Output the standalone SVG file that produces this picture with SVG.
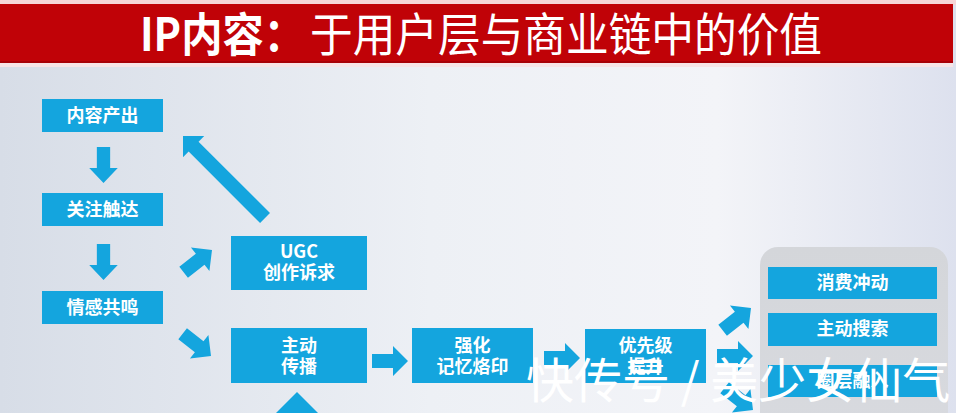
<svg xmlns="http://www.w3.org/2000/svg" width="956" height="413" viewBox="0 0 956 413">
  <defs>
    <linearGradient id="bg" x1="0" y1="0" x2="1" y2="0">
      <stop offset="0" stop-color="#d7dde7"/>
      <stop offset="0.45" stop-color="#edf0f5"/>
      <stop offset="0.75" stop-color="#f3f4f8"/>
      <stop offset="1" stop-color="#dde1ee"/>
    </linearGradient>
    <linearGradient id="panel" x1="0" y1="0" x2="0" y2="1">
      <stop offset="0" stop-color="#d4d6da"/>
      <stop offset="1" stop-color="#d8dadf"/>
    </linearGradient>
    <path id="arr" d="M0,0 L-15,-15 L-15,-7 L-36,-7 L-36,7 L-15,7 L-15,15 Z"/>
    <style>
      .box { fill: #14a5de; }
      .lbl { font-family: "Noto Sans CJK SC", "Noto Sans", sans-serif; font-weight: bold; font-size: 18px; fill: #ffffff; text-anchor: middle; }
      .conn { fill: #14a5de; }
      .title { font-family: "Noto Sans CJK SC", "Noto Sans", sans-serif; fill: #ffffff; font-size: 46px; }
      .wm { font-family: "Noto Sans CJK SC", sans-serif; font-weight: normal; font-size: 48px; fill: #ffffff; }
    </style>
  </defs>

  <!-- background -->
  <rect x="0" y="0" width="956" height="413" fill="url(#bg)"/>
  <rect x="0" y="0" width="956" height="5" fill="#f6d6d8"/>
  <rect x="0" y="4" width="953" height="59" fill="#c00207"/>
  <rect x="0" y="61" width="953" height="2" fill="#a80006"/>
  <rect x="0" y="63" width="953" height="4" fill="#f7e4e6"/>

  <!-- title -->
  <text class="title" x="140" y="51" font-weight="bold" textLength="165" lengthAdjust="spacingAndGlyphs">IP内容：</text>
  <text class="title" x="310" y="51" textLength="512" lengthAdjust="spacingAndGlyphs">于用户层与商业链中的价值</text>

  <!-- grey panel -->
  <rect x="760" y="247" width="188" height="200" rx="18" fill="url(#panel)"/>

  <!-- connectors -->
  <g id="connectors" class="conn">
    <use href="#arr" transform="translate(103.5,183) rotate(90) scale(1,0.95)"/>
    <use href="#arr" transform="translate(103.5,280) rotate(90) scale(1,0.95)"/>
    <use href="#arr" transform="translate(212,250) rotate(-38)"/>
    <use href="#arr" transform="translate(211,356) rotate(38)"/>
    <path d="M0,0 L-15,-15 L-15,-7 L-116,-7 L-116,7 L-15,7 L-15,15 Z" transform="translate(183,136) rotate(-135)"/>
    <path d="M0,0 L-24,-24 L-24,-8 L-50,-8 L-50,8 L-24,8 L-24,24 Z" transform="translate(297,392) rotate(-90)"/>
    <use href="#arr" transform="translate(408,361)"/>
    <use href="#arr" transform="translate(580,358)"/>
    <use href="#arr" transform="translate(751,308) rotate(-38)"/>
    <use href="#arr" transform="translate(753,356)"/>
    <use href="#arr" transform="translate(753,410) rotate(38)"/>
  </g>

  <!-- nodes -->
  <g id="n-content">
    <rect class="box" x="42" y="99" width="121" height="33"/>
    <text class="lbl" x="102.5" y="122">内容产出</text>
  </g>
  <g id="n-follow">
    <rect class="box" x="42" y="193" width="121" height="33"/>
    <text class="lbl" x="102.5" y="216">关注触达</text>
  </g>
  <g id="n-emotion">
    <rect class="box" x="42" y="291" width="121" height="33"/>
    <text class="lbl" x="102.5" y="314">情感共鸣</text>
  </g>
  <g id="n-ugc">
    <rect class="box" x="231" y="236" width="136" height="54"/>
    <text class="lbl" x="299" y="258">UGC</text>
    <text class="lbl" x="299" y="279">创作诉求</text>
  </g>
  <g id="n-spread">
    <rect class="box" x="231" y="328" width="136" height="55"/>
    <text class="lbl" x="299" y="352">主动</text>
    <text class="lbl" x="299" y="373">传播</text>
  </g>
  <g id="n-memory">
    <rect class="box" x="412" y="328" width="121" height="55"/>
    <text class="lbl" x="472.5" y="352">强化</text>
    <text class="lbl" x="472.5" y="373">记忆烙印</text>
  </g>
  <g id="n-priority">
    <rect class="box" x="585" y="329" width="121" height="54"/>
    <text class="lbl" x="645.5" y="352">优先级</text>
    <text class="lbl" x="645.5" y="373">提升</text>
  </g>
  <g id="n-consume">
    <rect class="box" x="768" y="267" width="169" height="32"/>
    <text class="lbl" x="852.5" y="289">消费冲动</text>
  </g>
  <g id="n-search">
    <rect class="box" x="768" y="313" width="169" height="33"/>
    <text class="lbl" x="852.5" y="335">主动搜索</text>
  </g>
  <g id="n-circle">
    <rect class="box" x="768" y="365" width="169" height="32"/>
    <text class="lbl" x="852.5" y="387">圈层融入</text>
  </g>

  <!-- watermark -->
  <text class="wm" x="526" y="398">快传号 / 美少女仙气</text>
</svg>
